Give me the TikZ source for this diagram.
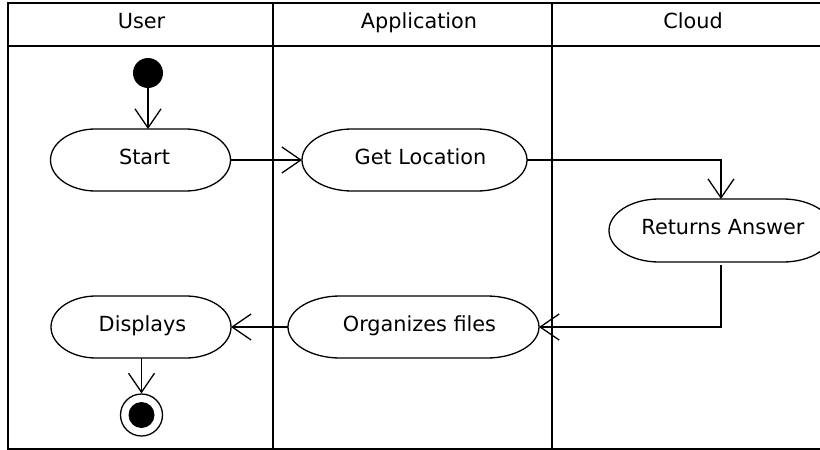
\documentclass[tikz,border=0pt]{standalone}
\usepackage{fontspec}
\setmainfont{DejaVu Sans}
\usetikzlibrary{arrows.meta}
\newcommand{\stadium}[3]{%
  \draw[shapeline] ([xshift=#2pt]#1.north west) -- ([xshift=-#2pt]#1.north east)
    arc[start angle=90,end angle=-90,x radius=#2pt,y radius=#3pt]
    -- ([xshift=#2pt]#1.south west)
    arc[start angle=270,end angle=90,x radius=#2pt,y radius=#3pt] -- cycle;}
\begin{document}
\begin{tikzpicture}[x=1pt,y=-1pt,
  shapeline/.style={line width=1.3pt},
  frameline/.style={line width=1.8pt},
  act/.style={inner sep=0pt,outer sep=0pt,minimum height=62pt,font=\fontsize{20.8}{24}\selectfont},
  txt/.style={inner sep=0pt,text height=15pt,text depth=7pt,font=\fontsize{20.8}{24}\selectfont},
  lane/.style={anchor=base,inner sep=0pt,font=\fontsize{20.8}{24}\selectfont},
  flow/.style={line width=1.3pt,-{Straight Barb[length=19pt,width=26pt,line width=1.3pt]}}]
\useasboundingbox (0,0) rectangle (820,450);
% frame
\draw[frameline] (822,3) -- (8,3) -- (8,449) -- (822,449);
\draw[frameline] (8,46) -- (822,46);
\draw[frameline] (273,3) -- (273,449);
\draw[frameline] (552,3) -- (552,449);
\node[lane] (hUser) at (141.5,28) {User};
\node[lane] (hApp) at (419,28) {Application};
\node[lane] (hCloud) at (693,28) {Cloud};
% nodes
\node[circle,fill=black,inner sep=0pt,minimum size=30pt] (init) at (148,73) {};
\node[act,minimum width=180pt] (start) at (140.5,160) {};
\node[act,minimum width=225pt] (get) at (414.5,160) {};
\node[act,minimum width=224pt,minimum height=63pt] (ret) at (721,230.5) {};
\node[act,minimum width=251pt] (org) at (413.5,327) {};
\node[act,minimum width=180pt] (disp) at (141,327) {};
\node[txt,xshift=4pt] (tstart) at (start) {Start};
\node[txt,xshift=6pt] (tget) at (get) {Get Location};
\node[txt,xshift=2pt] (tret) at (ret) {Returns Answer};
\node[txt,xshift=6pt] (torg) at (org) {Organizes files};
\node[txt,xshift=1.5pt] (tdisp) at (disp) {Displays};
\node[circle,draw,line width=1.3pt,inner sep=0pt,minimum size=42pt] (fin) at (141.5,415) {};
\node[circle,fill=black,inner sep=0pt,minimum size=26pt] (finin) at (fin) {};
\stadium{start}{45}{31}
\stadium{get}{50}{31}
\stadium{ret}{50}{31.5}
\stadium{org}{52}{31}
\stadium{disp}{45}{31}
% connectors
\draw[flow] (init) -- (init |- start.north);
\draw[flow] (start.east) -- (get.west);
\draw[flow] (get.east) -| (ret.north);
\draw[flow] ([yshift=-3pt]ret.south) |- (org.east);
\draw[flow] (org.west) -- (disp.east);
\draw[flow] ([xshift=0.5pt]disp.south) -- (fin.north);
\end{tikzpicture}
\end{document}
